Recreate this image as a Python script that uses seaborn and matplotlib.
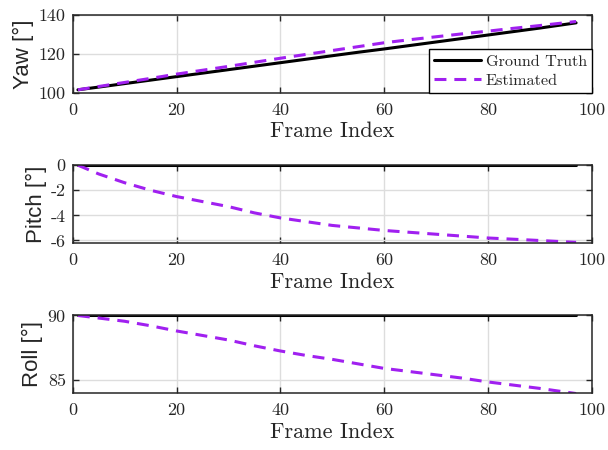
import numpy as np
import pandas as pd
import matplotlib
matplotlib.use('Agg')
import matplotlib.pyplot as plt
import seaborn as sns

frames = [1, 5, 10, 15, 20, 25, 30, 35, 40, 45, 50, 55, 60, 65, 70, 75, 80, 85, 90, 97]

yaw_gt = [101.5, 102.9, 104.7, 106.5, 108.3, 110.1, 111.9, 113.7, 115.5, 117.3,
          119.1, 120.9, 122.6, 124.4, 126.2, 128.0, 129.8, 131.6, 133.4, 136.1]
yaw_est = [101.5, 103.2, 105.3, 107.4, 109.6, 111.6, 113.6, 115.7, 117.8, 119.8,
           121.8, 123.8, 125.8, 127.4, 128.9, 130.4, 131.8, 133.3, 134.7, 136.8]

pitch_gt = [0.0] * len(frames)
pitch_est = [0.0, -0.7, -1.4, -2.0, -2.5, -2.9, -3.3, -3.8, -4.2, -4.5,
             -4.8, -5.0, -5.2, -5.35, -5.5, -5.65, -5.8, -5.9, -6.0, -6.15]

roll_gt = [90.0] * len(frames)
roll_est = [90.0, 89.8, 89.55, 89.2, 88.8, 88.45, 88.1, 87.65, 87.25, 86.9,
            86.6, 86.25, 85.9, 85.65, 85.4, 85.15, 84.85, 84.6, 84.35, 83.95]

panels = [
    ('Yaw [°]', yaw_gt, yaw_est, (100, 140), [100, 120, 140]),
    ('Pitch [°]', pitch_gt, pitch_est, (-6.2, 0), [-6, -4, -2, 0]),
    ('Roll [°]', roll_gt, roll_est, (83.97, 90), [85, 90]),
]

sns.set_theme(style='whitegrid')
plt.rcParams['font.family'] = ['cmr10', 'DejaVu Serif']
plt.rcParams['axes.unicode_minus'] = False
plt.rcParams['mathtext.fontset'] = 'cm'

purple = '#A020F0'
fig = plt.figure(figsize=(6.08, 4.5), dpi=100)
# axes boxes in figure fractions (left, bottom, width, height)
boxes = [(0.1196, 0.794, 0.8535, 0.172),
         (0.1196, 0.460, 0.8535, 0.173),
         (0.1196, 0.126, 0.8535, 0.173)]

for (label, gt, est, ylim, yticks), box in zip(panels, boxes):
    ax = fig.add_axes(box)
    df = pd.DataFrame({'frame': frames, 'gt': gt, 'est': est})
    sns.lineplot(data=df, x='frame', y='gt', ax=ax, color='black', lw=2.2,
                 label='Ground Truth')
    sns.lineplot(data=df, x='frame', y='est', ax=ax, color=purple, lw=2.2,
                 linestyle=(0, (3.9, 2.6)), label='Estimated')
    ax.set_xlim(0, 100)
    ax.set_ylim(*ylim)
    ax.set_xticks([0, 20, 40, 60, 80, 100])
    ax.set_yticks(yticks)
    ax.grid(True, color='#dddddd', lw=1.0)
    for s in ax.spines.values():
        s.set_color('#262626')
        s.set_linewidth(1.1)
    ax.tick_params(direction='in', length=4, width=1, colors='#262626',
                   labelsize=13, top=True, right=True, bottom=True, left=True)
    ax.tick_params(axis='x', pad=7)
    ax.tick_params(axis='y', pad=5)
    ax.set_xlabel('Frame Index', fontsize=16, color='#262626', labelpad=3)
    ax.set_ylabel(label, fontsize=16, color='#262626',
                  family=['Liberation Sans', 'DejaVu Sans'], labelpad=3)
    if label.startswith('Yaw'):
        leg = ax.legend(loc='lower right', fontsize=11.7, frameon=True,
                        fancybox=False, edgecolor='black', framealpha=1,
                        borderpad=0.3, handlelength=2.9, handletextpad=0.3,
                        labelspacing=0.3, borderaxespad=0.0)
        leg.get_frame().set_linewidth(1.0)
    else:
        ax.get_legend().remove()

fig.savefig('out.png', dpi=100)
